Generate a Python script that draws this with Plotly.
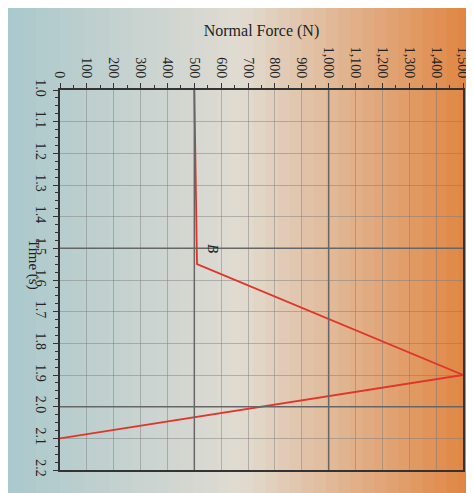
import plotly.graph_objects as go

# Data (force in N, time in s)
times = [1.0, 1.55, 1.9, 2.1]
forces = [500, 510, 1500, 0]
force_ticks = list(range(0, 1600, 100))
force_labels = ["{:,}".format(v) for v in force_ticks]
time_ticks = [round(1.0 + 0.1 * i, 1) for i in range(13)]
time_labels = ["{:.1f}".format(v) for v in time_ticks]

fig = go.Figure()

# Background gradient bands (blue-grey left -> orange right)
left = (170, 200, 205)
mid = (225, 220, 210)
right = (225, 130, 60)
shapes = []
n = 40
for i in range(n):
    f = i / (n - 1)
    if f < 0.5:
        g = f / 0.5
        c = [int(left[k] + (mid[k] - left[k]) * g) for k in range(3)]
    else:
        g = (f - 0.5) / 0.5
        c = [int(mid[k] + (right[k] - mid[k]) * g) for k in range(3)]
    shapes.append(dict(type="rect", xref="paper", yref="paper", layer="below",
                       x0=-0.15 + i * 1.2 / n, x1=-0.15 + (i + 1) * 1.2 / n + 0.002,
                       y0=-0.1, y1=1.25, line_width=0,
                       fillcolor="rgb({},{},{})".format(*c)))

# darker grid lines
for v in [500, 1000]:
    shapes.append(dict(type="line", x0=v, x1=v, y0=1.0, y1=2.2,
                       line=dict(color="#666", width=1.5)))
for t in [1.5, 2.0]:
    shapes.append(dict(type="line", x0=0, x1=1500, y0=t, y1=t,
                       line=dict(color="#666", width=1.5)))

fig.add_trace(go.Scatter(x=forces, y=times, mode="lines",
                         line=dict(color="#e0352b", width=1.8), showlegend=False))

fig.add_annotation(x=530, y=1.5, text="<i>B</i>", showarrow=False,
                   textangle=90, font=dict(size=15, color="#222"), xanchor="left")
fig.add_annotation(xref="paper", yref="y", x=-0.09, y=1.55, text="Time (s)",
                   showarrow=False, textangle=90, font=dict(size=15, color="#222"))

font = dict(family="Liberation Serif", size=14, color="#222")
fig.update_layout(
    width=474, height=493,
    margin=dict(l=52, r=17, t=82, b=31),
    paper_bgcolor="#b8c8c8", plot_bgcolor="rgba(0,0,0,0)",
    shapes=shapes, font=font,
    xaxis=dict(range=[0, 1500], side="top", tickvals=force_ticks, ticktext=force_labels,
               tickangle=90, showgrid=True, gridcolor="rgba(120,120,120,0.45)",
               showline=True, linecolor="#333", linewidth=1.5, ticks="outside",
               ticklen=5, tickcolor="#333",
               minor=dict(dtick=50, ticks="outside", ticklen=3, tickcolor="#333"),
               zeroline=False, mirror=True,
               title=dict(text="Normal Force (N)", standoff=6, font=dict(size=16))),
    yaxis=dict(range=[2.2, 1.0], tickvals=time_ticks, ticktext=time_labels,
               tickangle=90, showgrid=True, gridcolor="rgba(120,120,120,0.45)",
               showline=True, linecolor="#333", linewidth=1.5, ticks="outside",
               ticklen=5, tickcolor="#333",
               minor=dict(dtick=0.025, ticks="outside", ticklen=3, tickcolor="#333"),
               zeroline=False, mirror=True),
)

fig.write_html("out.html")
